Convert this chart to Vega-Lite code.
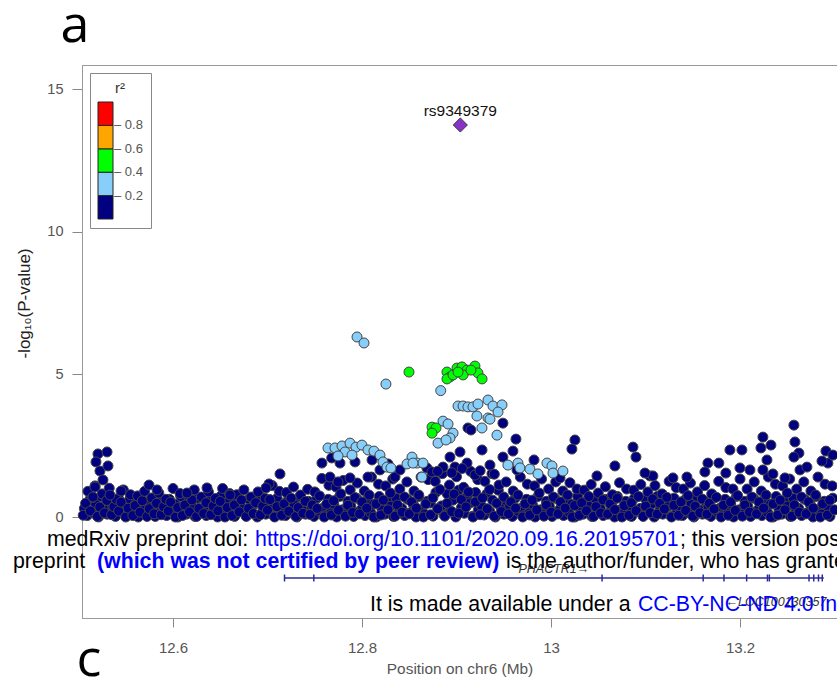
{
"$schema": "https://vega.github.io/schema/vega-lite/v6.json",
"autosize": {"type": "none"},
"padding": {"left": 82, "top": 65, "right": 0, "bottom": 68},
"width": 755,
"height": 553,
"background": "white",
"config": {"view": {"stroke": "#999", "strokeWidth": 1}, "font": "Liberation Sans", "axis": {"grid": false, "labelFont": "Liberation Sans", "titleFont": "Liberation Sans"}},
"datasets": {
"low": [
{"x":12.5062,"y":0.30,"r2":0.1},{"x":12.5092,"y":0.05,"r2":0.1},{"x":12.5122,"y":0.62,"r2":0.1},{"x":12.5152,"y":0.15,"r2":0.1},{"x":12.5182,"y":0.45,"r2":0.1},{"x":12.5212,"y":0.00,"r2":0.1},{"x":12.5242,"y":0.72,"r2":0.1},{"x":12.5272,"y":0.25,"r2":0.1},{"x":12.5302,"y":0.10,"r2":0.1},{"x":12.5332,"y":0.55,"r2":0.1},{"x":12.5362,"y":0.38,"r2":0.1},{"x":12.5392,"y":0.02,"r2":0.1},{"x":12.5422,"y":0.66,"r2":0.1},{"x":12.5452,"y":0.20,"r2":0.1},
{"x":12.5482,"y":0.30,"r2":0.1},{"x":12.5512,"y":0.05,"r2":0.1},{"x":12.5542,"y":0.62,"r2":0.1},{"x":12.5572,"y":0.15,"r2":0.1},{"x":12.5602,"y":0.45,"r2":0.1},{"x":12.5632,"y":0.00,"r2":0.1},{"x":12.5662,"y":0.72,"r2":0.1},{"x":12.5692,"y":0.25,"r2":0.1},{"x":12.5722,"y":0.10,"r2":0.1},{"x":12.5752,"y":0.55,"r2":0.1},{"x":12.5782,"y":0.38,"r2":0.1},{"x":12.5812,"y":0.02,"r2":0.1},{"x":12.5842,"y":0.66,"r2":0.1},{"x":12.5872,"y":0.20,"r2":0.1},
{"x":12.5902,"y":0.30,"r2":0.1},{"x":12.5932,"y":0.05,"r2":0.1},{"x":12.5962,"y":0.62,"r2":0.1},{"x":12.5992,"y":0.15,"r2":0.1},{"x":12.6022,"y":0.45,"r2":0.1},{"x":12.6052,"y":0.00,"r2":0.1},{"x":12.6082,"y":0.72,"r2":0.1},{"x":12.6112,"y":0.25,"r2":0.1},{"x":12.6142,"y":0.10,"r2":0.1},{"x":12.6172,"y":0.55,"r2":0.1},{"x":12.6202,"y":0.38,"r2":0.1},{"x":12.6232,"y":0.02,"r2":0.1},{"x":12.6262,"y":0.66,"r2":0.1},{"x":12.6292,"y":0.20,"r2":0.1},
{"x":12.6322,"y":0.30,"r2":0.1},{"x":12.6352,"y":0.05,"r2":0.1},{"x":12.6382,"y":0.62,"r2":0.1},{"x":12.6412,"y":0.15,"r2":0.1},{"x":12.6442,"y":0.45,"r2":0.1},{"x":12.6472,"y":0.00,"r2":0.1},{"x":12.6502,"y":0.72,"r2":0.1},{"x":12.6532,"y":0.25,"r2":0.1},{"x":12.6562,"y":0.10,"r2":0.1},{"x":12.6592,"y":0.55,"r2":0.1},{"x":12.6622,"y":0.38,"r2":0.1},{"x":12.6652,"y":0.02,"r2":0.1},{"x":12.6682,"y":0.66,"r2":0.1},{"x":12.6712,"y":0.20,"r2":0.1},
{"x":12.6742,"y":0.30,"r2":0.1},{"x":12.6772,"y":0.05,"r2":0.1},{"x":12.6802,"y":0.62,"r2":0.1},{"x":12.6832,"y":0.15,"r2":0.1},{"x":12.6862,"y":0.45,"r2":0.1},{"x":12.6892,"y":0.00,"r2":0.1},{"x":12.6922,"y":0.72,"r2":0.1},{"x":12.6952,"y":0.25,"r2":0.1},{"x":12.6982,"y":0.10,"r2":0.1},{"x":12.7012,"y":0.55,"r2":0.1},{"x":12.7042,"y":0.38,"r2":0.1},{"x":12.7072,"y":0.02,"r2":0.1},{"x":12.7102,"y":0.66,"r2":0.1},{"x":12.7132,"y":0.20,"r2":0.1},
{"x":12.7162,"y":0.30,"r2":0.1},{"x":12.7192,"y":0.05,"r2":0.1},{"x":12.7222,"y":0.62,"r2":0.1},{"x":12.7252,"y":0.15,"r2":0.1},{"x":12.7282,"y":0.45,"r2":0.1},{"x":12.7312,"y":0.00,"r2":0.1},{"x":12.7342,"y":0.72,"r2":0.1},{"x":12.7372,"y":0.25,"r2":0.1},{"x":12.7402,"y":0.10,"r2":0.1},{"x":12.7432,"y":0.55,"r2":0.1},{"x":12.7462,"y":0.38,"r2":0.1},{"x":12.7492,"y":0.02,"r2":0.1},{"x":12.7522,"y":0.66,"r2":0.1},{"x":12.7552,"y":0.20,"r2":0.1},
{"x":12.7582,"y":0.30,"r2":0.1},{"x":12.7612,"y":0.05,"r2":0.1},{"x":12.7642,"y":0.62,"r2":0.1},{"x":12.7672,"y":0.15,"r2":0.1},{"x":12.7702,"y":0.45,"r2":0.1},{"x":12.7732,"y":0.00,"r2":0.1},{"x":12.7762,"y":0.72,"r2":0.1},{"x":12.7792,"y":0.25,"r2":0.1},{"x":12.7822,"y":0.10,"r2":0.1},{"x":12.7852,"y":0.55,"r2":0.1},{"x":12.7882,"y":0.38,"r2":0.1},{"x":12.7912,"y":0.02,"r2":0.1},{"x":12.7942,"y":0.66,"r2":0.1},{"x":12.7972,"y":0.20,"r2":0.1},
{"x":12.8002,"y":0.30,"r2":0.1},{"x":12.8032,"y":0.05,"r2":0.1},{"x":12.8062,"y":0.62,"r2":0.1},{"x":12.8092,"y":0.15,"r2":0.1},{"x":12.8122,"y":0.45,"r2":0.1},{"x":12.8152,"y":0.00,"r2":0.1},{"x":12.8182,"y":0.72,"r2":0.1},{"x":12.8212,"y":0.25,"r2":0.1},{"x":12.8242,"y":0.10,"r2":0.1},{"x":12.8272,"y":0.55,"r2":0.1},{"x":12.8302,"y":0.38,"r2":0.1},{"x":12.8332,"y":0.02,"r2":0.1},{"x":12.8362,"y":0.66,"r2":0.1},{"x":12.8392,"y":0.20,"r2":0.1},
{"x":12.8422,"y":0.30,"r2":0.1},{"x":12.8452,"y":0.05,"r2":0.1},{"x":12.8482,"y":0.62,"r2":0.1},{"x":12.8512,"y":0.15,"r2":0.1},{"x":12.8542,"y":0.45,"r2":0.1},{"x":12.8572,"y":0.00,"r2":0.1},{"x":12.8602,"y":0.72,"r2":0.1},{"x":12.8632,"y":0.25,"r2":0.1},{"x":12.8662,"y":0.10,"r2":0.1},{"x":12.8692,"y":0.55,"r2":0.1},{"x":12.8722,"y":0.49,"r2":0.1},{"x":12.8752,"y":0.03,"r2":0.1},{"x":12.8782,"y":0.86,"r2":0.1},{"x":12.8812,"y":0.26,"r2":0.1},
{"x":12.8842,"y":0.39,"r2":0.1},{"x":12.8872,"y":0.07,"r2":0.1},{"x":12.8902,"y":0.81,"r2":0.1},{"x":12.8932,"y":0.20,"r2":0.1},{"x":12.8962,"y":0.59,"r2":0.1},{"x":12.8992,"y":0.00,"r2":0.1},{"x":12.9022,"y":0.94,"r2":0.1},{"x":12.9052,"y":0.33,"r2":0.1},{"x":12.9082,"y":0.13,"r2":0.1},{"x":12.9112,"y":0.72,"r2":0.1},{"x":12.9142,"y":0.49,"r2":0.1},{"x":12.9172,"y":0.03,"r2":0.1},{"x":12.9202,"y":0.86,"r2":0.1},{"x":12.9232,"y":0.26,"r2":0.1},
{"x":12.9262,"y":0.39,"r2":0.1},{"x":12.9292,"y":0.07,"r2":0.1},{"x":12.9322,"y":0.81,"r2":0.1},{"x":12.9352,"y":0.20,"r2":0.1},{"x":12.9382,"y":0.59,"r2":0.1},{"x":12.9412,"y":0.00,"r2":0.1},{"x":12.9442,"y":0.94,"r2":0.1},{"x":12.9472,"y":0.33,"r2":0.1},{"x":12.9502,"y":0.10,"r2":0.1},{"x":12.9532,"y":0.55,"r2":0.1},{"x":12.9562,"y":0.38,"r2":0.1},{"x":12.9592,"y":0.02,"r2":0.1},{"x":12.9622,"y":0.66,"r2":0.1},{"x":12.9652,"y":0.20,"r2":0.1},
{"x":12.9682,"y":0.30,"r2":0.1},{"x":12.9712,"y":0.05,"r2":0.1},{"x":12.9742,"y":0.62,"r2":0.1},{"x":12.9772,"y":0.15,"r2":0.1},{"x":12.9802,"y":0.45,"r2":0.1},{"x":12.9832,"y":0.00,"r2":0.1},{"x":12.9862,"y":0.72,"r2":0.1},{"x":12.9892,"y":0.25,"r2":0.1},{"x":12.9922,"y":0.10,"r2":0.1},{"x":12.9952,"y":0.55,"r2":0.1},{"x":12.9982,"y":0.38,"r2":0.1},{"x":13.0012,"y":0.02,"r2":0.1},{"x":13.0042,"y":0.66,"r2":0.1},{"x":13.0072,"y":0.20,"r2":0.1},
{"x":13.0102,"y":0.30,"r2":0.1},{"x":13.0132,"y":0.05,"r2":0.1},{"x":13.0162,"y":0.62,"r2":0.1},{"x":13.0192,"y":0.15,"r2":0.1},{"x":13.0222,"y":0.45,"r2":0.1},{"x":13.0252,"y":0.00,"r2":0.1},{"x":13.0282,"y":0.72,"r2":0.1},{"x":13.0312,"y":0.25,"r2":0.1},{"x":13.0342,"y":0.10,"r2":0.1},{"x":13.0372,"y":0.55,"r2":0.1},{"x":13.0402,"y":0.38,"r2":0.1},{"x":13.0432,"y":0.02,"r2":0.1},{"x":13.0462,"y":0.66,"r2":0.1},{"x":13.0492,"y":0.20,"r2":0.1},
{"x":13.0522,"y":0.30,"r2":0.1},{"x":13.0552,"y":0.05,"r2":0.1},{"x":13.0582,"y":0.62,"r2":0.1},{"x":13.0612,"y":0.15,"r2":0.1},{"x":13.0642,"y":0.45,"r2":0.1},{"x":13.0672,"y":0.00,"r2":0.1},{"x":13.0702,"y":0.72,"r2":0.1},{"x":13.0732,"y":0.25,"r2":0.1},{"x":13.0762,"y":0.10,"r2":0.1},{"x":13.0792,"y":0.55,"r2":0.1},{"x":13.0822,"y":0.38,"r2":0.1},{"x":13.0852,"y":0.02,"r2":0.1},{"x":13.0882,"y":0.66,"r2":0.1},{"x":13.0912,"y":0.20,"r2":0.1},
{"x":13.0942,"y":0.30,"r2":0.1},{"x":13.0972,"y":0.05,"r2":0.1},{"x":13.1002,"y":0.62,"r2":0.1},{"x":13.1032,"y":0.15,"r2":0.1},{"x":13.1062,"y":0.45,"r2":0.1},{"x":13.1092,"y":0.00,"r2":0.1},{"x":13.1122,"y":0.72,"r2":0.1},{"x":13.1152,"y":0.25,"r2":0.1},{"x":13.1182,"y":0.10,"r2":0.1},{"x":13.1212,"y":0.55,"r2":0.1},{"x":13.1242,"y":0.38,"r2":0.1},{"x":13.1272,"y":0.02,"r2":0.1},{"x":13.1302,"y":0.66,"r2":0.1},{"x":13.1332,"y":0.20,"r2":0.1},
{"x":13.1362,"y":0.30,"r2":0.1},{"x":13.1392,"y":0.05,"r2":0.1},{"x":13.1422,"y":0.62,"r2":0.1},{"x":13.1452,"y":0.15,"r2":0.1},{"x":13.1482,"y":0.45,"r2":0.1},{"x":13.1512,"y":0.00,"r2":0.1},{"x":13.1542,"y":0.72,"r2":0.1},{"x":13.1572,"y":0.25,"r2":0.1},{"x":13.1602,"y":0.10,"r2":0.1},{"x":13.1632,"y":0.55,"r2":0.1},{"x":13.1662,"y":0.38,"r2":0.1},{"x":13.1692,"y":0.02,"r2":0.1},{"x":13.1722,"y":0.66,"r2":0.1},{"x":13.1752,"y":0.20,"r2":0.1},
{"x":13.1782,"y":0.30,"r2":0.1},{"x":13.1812,"y":0.05,"r2":0.1},{"x":13.1842,"y":0.62,"r2":0.1},{"x":13.1872,"y":0.15,"r2":0.1},{"x":13.1902,"y":0.45,"r2":0.1},{"x":13.1932,"y":0.00,"r2":0.1},{"x":13.1962,"y":0.72,"r2":0.1},{"x":13.1992,"y":0.25,"r2":0.1},{"x":13.2022,"y":0.10,"r2":0.1},{"x":13.2052,"y":0.55,"r2":0.1},{"x":13.2082,"y":0.38,"r2":0.1},{"x":13.2112,"y":0.02,"r2":0.1},{"x":13.2142,"y":0.66,"r2":0.1},{"x":13.2172,"y":0.20,"r2":0.1},
{"x":13.2202,"y":0.30,"r2":0.1},{"x":13.2232,"y":0.05,"r2":0.1},{"x":13.2262,"y":0.62,"r2":0.1},{"x":13.2292,"y":0.15,"r2":0.1},{"x":13.2322,"y":0.45,"r2":0.1},{"x":13.2352,"y":0.00,"r2":0.1},{"x":13.2382,"y":0.72,"r2":0.1},{"x":13.2412,"y":0.25,"r2":0.1},{"x":13.2442,"y":0.10,"r2":0.1},{"x":13.2472,"y":0.55,"r2":0.1},{"x":13.2502,"y":0.38,"r2":0.1},{"x":13.2532,"y":0.02,"r2":0.1},{"x":13.2562,"y":0.66,"r2":0.1},{"x":13.2592,"y":0.20,"r2":0.1},
{"x":13.2622,"y":0.30,"r2":0.1},{"x":13.2652,"y":0.05,"r2":0.1},{"x":13.2682,"y":0.62,"r2":0.1},{"x":13.2712,"y":0.15,"r2":0.1},{"x":13.2742,"y":0.45,"r2":0.1},{"x":13.2772,"y":0.00,"r2":0.1},{"x":13.2802,"y":0.72,"r2":0.1},{"x":13.2832,"y":0.25,"r2":0.1},{"x":13.2862,"y":0.10,"r2":0.1},{"x":13.2892,"y":0.55,"r2":0.1},{"x":13.2922,"y":0.38,"r2":0.1},{"x":13.2952,"y":0.02,"r2":0.1},{"x":13.2982,"y":0.66,"r2":0.1}
],
"pts": [
{"x":12.505,"y":0.06,"r2":0.1},{"x":12.5075,"y":0.48,"r2":0.1},{"x":12.51,"y":0.90,"r2":0.1},{"x":12.5125,"y":0.21,"r2":0.1},{"x":12.515,"y":0.69,"r2":0.1},{"x":12.5175,"y":1.09,"r2":0.1},{"x":12.52,"y":0.02,"r2":0.1},{"x":12.5225,"y":0.35,"r2":0.1},{"x":12.525,"y":0.81,"r2":0.1},{"x":12.5275,"y":0.14,"r2":0.1},{"x":12.53,"y":0.58,"r2":0.1},{"x":12.5325,"y":1.01,"r2":0.1},
{"x":12.535,"y":0.08,"r2":0.1},{"x":12.5375,"y":0.36,"r2":0.1},{"x":12.54,"y":0.62,"r2":0.1},{"x":12.5425,"y":0.21,"r2":0.1},{"x":12.545,"y":0.52,"r2":0.1},{"x":12.5475,"y":0.95,"r2":0.1},{"x":12.55,"y":0.00,"r2":0.1},{"x":12.5525,"y":0.31,"r2":0.1},{"x":12.555,"y":0.78,"r2":0.1},{"x":12.5575,"y":0.05,"r2":0.1},{"x":12.56,"y":0.40,"r2":0.1},{"x":12.5625,"y":0.74,"r2":0.1},{"x":12.565,"y":0.17,"r2":0.1},{"x":12.5675,"y":0.57,"r2":0.1},{"x":12.57,"y":0.90,"r2":0.1},{"x":12.5725,"y":0.02,"r2":0.1},{"x":12.575,"y":0.29,"r2":0.1},{"x":12.5775,"y":0.67,"r2":0.1},{"x":12.58,"y":0.11,"r2":0.1},{"x":12.5825,"y":0.48,"r2":0.1},{"x":12.585,"y":0.84,"r2":0.1},{"x":12.5875,"y":0.08,"r2":0.1},{"x":12.59,"y":0.36,"r2":0.1},{"x":12.5925,"y":0.62,"r2":0.1},{"x":12.595,"y":0.21,"r2":0.1},{"x":12.5975,"y":0.52,"r2":0.1},
{"x":12.60,"y":1.00,"r2":0.1},{"x":12.6025,"y":0.00,"r2":0.1},{"x":12.605,"y":0.33,"r2":0.1},{"x":12.6075,"y":0.82,"r2":0.1},{"x":12.61,"y":0.05,"r2":0.1},{"x":12.6125,"y":0.42,"r2":0.1},{"x":12.615,"y":0.78,"r2":0.1},{"x":12.6175,"y":0.18,"r2":0.1},{"x":12.62,"y":0.60,"r2":0.1},{"x":12.6225,"y":0.95,"r2":0.1},{"x":12.625,"y":0.02,"r2":0.1},{"x":12.6275,"y":0.30,"r2":0.1},{"x":12.63,"y":0.70,"r2":0.1},{"x":12.6325,"y":0.12,"r2":0.1},{"x":12.635,"y":0.50,"r2":0.1},{"x":12.6375,"y":0.88,"r2":0.1},{"x":12.64,"y":0.08,"r2":0.1},{"x":12.6425,"y":0.38,"r2":0.1},{"x":12.645,"y":0.65,"r2":0.1},{"x":12.6475,"y":0.22,"r2":0.1},{"x":12.65,"y":0.55,"r2":0.1},{"x":12.6525,"y":1.00,"r2":0.1},{"x":12.655,"y":0.00,"r2":0.1},{"x":12.6575,"y":0.33,"r2":0.1},{"x":12.66,"y":0.82,"r2":0.1},{"x":12.6625,"y":0.05,"r2":0.1},{"x":12.665,"y":0.42,"r2":0.1},{"x":12.6675,"y":0.78,"r2":0.1},{"x":12.67,"y":0.18,"r2":0.1},{"x":12.6725,"y":0.60,"r2":0.1},{"x":12.675,"y":0.95,"r2":0.1},{"x":12.6775,"y":0.02,"r2":0.1},{"x":12.68,"y":0.30,"r2":0.1},{"x":12.6825,"y":0.70,"r2":0.1},{"x":12.685,"y":0.12,"r2":0.1},{"x":12.6875,"y":0.50,"r2":0.1},{"x":12.69,"y":0.88,"r2":0.1},{"x":12.6925,"y":0.08,"r2":0.1},{"x":12.695,"y":0.38,"r2":0.1},{"x":12.6975,"y":0.65,"r2":0.1},
{"x":12.70,"y":0.24,"r2":0.1},{"x":12.7025,"y":0.61,"r2":0.1},{"x":12.705,"y":1.10,"r2":0.1},{"x":12.7075,"y":0.00,"r2":0.1},{"x":12.71,"y":0.36,"r2":0.1},{"x":12.7125,"y":0.90,"r2":0.1},{"x":12.715,"y":0.06,"r2":0.1},{"x":12.7175,"y":0.46,"r2":0.1},{"x":12.72,"y":0.86,"r2":0.1},{"x":12.7225,"y":0.20,"r2":0.1},{"x":12.725,"y":0.66,"r2":0.1},{"x":12.7275,"y":1.05,"r2":0.1},{"x":12.73,"y":0.02,"r2":0.1},{"x":12.7325,"y":0.33,"r2":0.1},{"x":12.735,"y":0.77,"r2":0.1},{"x":12.7375,"y":0.13,"r2":0.1},{"x":12.74,"y":0.55,"r2":0.1},{"x":12.7425,"y":0.97,"r2":0.1},{"x":12.745,"y":0.09,"r2":0.1},{"x":12.7475,"y":0.42,"r2":0.1},
{"x":12.75,"y":0.88,"r2":0.1},{"x":12.7525,"y":0.30,"r2":0.1},{"x":12.755,"y":0.74,"r2":0.1},{"x":12.7575,"y":1.35,"r2":0.1},{"x":12.76,"y":0.00,"r2":0.1},{"x":12.7625,"y":0.45,"r2":0.1},{"x":12.765,"y":1.11,"r2":0.1},{"x":12.7675,"y":0.07,"r2":0.1},{"x":12.77,"y":0.57,"r2":0.1},{"x":12.7725,"y":1.05,"r2":0.1},{"x":12.775,"y":0.24,"r2":0.1},{"x":12.7775,"y":0.81,"r2":0.1},{"x":12.78,"y":1.28,"r2":0.1},{"x":12.7825,"y":0.03,"r2":0.1},{"x":12.785,"y":0.41,"r2":0.1},{"x":12.7875,"y":0.95,"r2":0.1},{"x":12.79,"y":0.16,"r2":0.1},{"x":12.7925,"y":0.68,"r2":0.1},{"x":12.795,"y":1.19,"r2":0.1},{"x":12.7975,"y":0.11,"r2":0.1},
{"x":12.80,"y":0.53,"r2":0.1},{"x":12.8025,"y":0.91,"r2":0.1},{"x":12.805,"y":0.31,"r2":0.1},{"x":12.8075,"y":0.77,"r2":0.1},{"x":12.81,"y":1.40,"r2":0.1},{"x":12.8125,"y":0.00,"r2":0.1},{"x":12.815,"y":0.46,"r2":0.1},{"x":12.8175,"y":1.15,"r2":0.1},{"x":12.82,"y":0.07,"r2":0.1},{"x":12.8225,"y":0.59,"r2":0.1},{"x":12.825,"y":1.09,"r2":0.1},{"x":12.8275,"y":0.25,"r2":0.1},{"x":12.83,"y":0.84,"r2":0.1},{"x":12.8325,"y":1.33,"r2":0.1},{"x":12.835,"y":0.03,"r2":0.1},{"x":12.8375,"y":0.42,"r2":0.1},{"x":12.84,"y":0.98,"r2":0.1},{"x":12.8425,"y":0.17,"r2":0.1},{"x":12.845,"y":0.70,"r2":0.1},{"x":12.8475,"y":1.23,"r2":0.1},{"x":12.85,"y":0.11,"r2":0.1},{"x":12.8525,"y":0.53,"r2":0.1},{"x":12.855,"y":0.91,"r2":0.1},{"x":12.8575,"y":0.31,"r2":0.1},{"x":12.86,"y":0.77,"r2":0.1},{"x":12.8625,"y":1.40,"r2":0.1},{"x":12.865,"y":0.00,"r2":0.1},{"x":12.8675,"y":0.46,"r2":0.1},
{"x":12.87,"y":1.31,"r2":0.1},{"x":12.8725,"y":0.08,"r2":0.1},{"x":12.875,"y":0.67,"r2":0.1},{"x":12.8775,"y":1.25,"r2":0.1},{"x":12.88,"y":0.29,"r2":0.1},{"x":12.8825,"y":0.96,"r2":0.1},{"x":12.885,"y":1.52,"r2":0.1},{"x":12.8875,"y":0.03,"r2":0.1},{"x":12.89,"y":0.48,"r2":0.1},{"x":12.8925,"y":1.12,"r2":0.1},{"x":12.895,"y":0.19,"r2":0.1},{"x":12.8975,"y":0.80,"r2":0.1},{"x":12.90,"y":1.41,"r2":0.1},{"x":12.9025,"y":0.13,"r2":0.1},{"x":12.905,"y":0.61,"r2":0.1},{"x":12.9075,"y":1.04,"r2":0.1},{"x":12.91,"y":0.35,"r2":0.1},{"x":12.9125,"y":0.88,"r2":0.1},{"x":12.915,"y":1.60,"r2":0.1},{"x":12.9175,"y":0.00,"r2":0.1},{"x":12.92,"y":0.53,"r2":0.1},{"x":12.9225,"y":1.31,"r2":0.1},{"x":12.925,"y":0.08,"r2":0.1},{"x":12.9275,"y":0.67,"r2":0.1},{"x":12.93,"y":1.25,"r2":0.1},{"x":12.9325,"y":0.29,"r2":0.1},{"x":12.935,"y":0.96,"r2":0.1},{"x":12.9375,"y":1.52,"r2":0.1},{"x":12.94,"y":0.03,"r2":0.1},{"x":12.9425,"y":0.48,"r2":0.1},{"x":12.945,"y":1.12,"r2":0.1},{"x":12.9475,"y":0.19,"r2":0.1},
{"x":12.95,"y":0.70,"r2":0.1},{"x":12.9525,"y":1.23,"r2":0.1},{"x":12.955,"y":0.11,"r2":0.1},{"x":12.9575,"y":0.53,"r2":0.1},{"x":12.96,"y":0.91,"r2":0.1},{"x":12.9625,"y":0.31,"r2":0.1},{"x":12.965,"y":0.77,"r2":0.1},{"x":12.9675,"y":1.40,"r2":0.1},{"x":12.97,"y":0.00,"r2":0.1},{"x":12.9725,"y":0.46,"r2":0.1},{"x":12.975,"y":1.15,"r2":0.1},{"x":12.9775,"y":0.07,"r2":0.1},{"x":12.98,"y":0.59,"r2":0.1},{"x":12.9825,"y":1.09,"r2":0.1},{"x":12.985,"y":0.25,"r2":0.1},{"x":12.9875,"y":0.84,"r2":0.1},{"x":12.99,"y":1.33,"r2":0.1},{"x":12.9925,"y":0.03,"r2":0.1},{"x":12.995,"y":0.42,"r2":0.1},{"x":12.9975,"y":0.98,"r2":0.1},{"x":13.00,"y":0.17,"r2":0.1},{"x":13.0025,"y":0.70,"r2":0.1},{"x":13.005,"y":1.23,"r2":0.1},{"x":13.0075,"y":0.11,"r2":0.1},{"x":13.01,"y":0.53,"r2":0.1},{"x":13.0125,"y":0.91,"r2":0.1},{"x":13.015,"y":0.31,"r2":0.1},{"x":13.0175,"y":0.77,"r2":0.1},
{"x":13.02,"y":1.20,"r2":0.1},{"x":13.0225,"y":0.00,"r2":0.1},{"x":13.025,"y":0.40,"r2":0.1},{"x":13.0275,"y":0.98,"r2":0.1},{"x":13.03,"y":0.06,"r2":0.1},{"x":13.0325,"y":0.50,"r2":0.1},{"x":13.035,"y":0.94,"r2":0.1},{"x":13.0375,"y":0.22,"r2":0.1},{"x":13.04,"y":0.72,"r2":0.1},{"x":13.0425,"y":1.14,"r2":0.1},{"x":13.045,"y":0.02,"r2":0.1},{"x":13.0475,"y":0.36,"r2":0.1},{"x":13.05,"y":0.84,"r2":0.1},{"x":13.0525,"y":0.14,"r2":0.1},{"x":13.055,"y":0.60,"r2":0.1},{"x":13.0575,"y":1.06,"r2":0.1},{"x":13.06,"y":0.10,"r2":0.1},{"x":13.0625,"y":0.46,"r2":0.1},{"x":13.065,"y":0.78,"r2":0.1},{"x":13.0675,"y":0.26,"r2":0.1},{"x":13.07,"y":0.66,"r2":0.1},{"x":13.0725,"y":1.20,"r2":0.1},{"x":13.075,"y":0.00,"r2":0.1},{"x":13.0775,"y":0.40,"r2":0.1},{"x":13.08,"y":0.98,"r2":0.1},{"x":13.0825,"y":0.06,"r2":0.1},{"x":13.085,"y":0.50,"r2":0.1},{"x":13.0875,"y":0.94,"r2":0.1},{"x":13.09,"y":0.22,"r2":0.1},{"x":13.0925,"y":0.72,"r2":0.1},{"x":13.095,"y":1.14,"r2":0.1},{"x":13.0975,"y":0.02,"r2":0.1},
{"x":13.10,"y":0.38,"r2":0.1},{"x":13.1025,"y":0.88,"r2":0.1},{"x":13.105,"y":0.15,"r2":0.1},{"x":13.1075,"y":0.63,"r2":0.1},{"x":13.11,"y":1.10,"r2":0.1},{"x":13.1125,"y":0.10,"r2":0.1},{"x":13.115,"y":0.48,"r2":0.1},{"x":13.1175,"y":0.81,"r2":0.1},{"x":13.12,"y":0.28,"r2":0.1},{"x":13.1225,"y":0.69,"r2":0.1},{"x":13.125,"y":1.25,"r2":0.1},{"x":13.1275,"y":0.00,"r2":0.1},{"x":13.13,"y":0.41,"r2":0.1},{"x":13.1325,"y":1.03,"r2":0.1},{"x":13.135,"y":0.06,"r2":0.1},{"x":13.1375,"y":0.53,"r2":0.1},{"x":13.14,"y":0.98,"r2":0.1},{"x":13.1425,"y":0.23,"r2":0.1},{"x":13.145,"y":0.75,"r2":0.1},{"x":13.1475,"y":1.19,"r2":0.1},{"x":13.15,"y":0.03,"r2":0.1},{"x":13.1525,"y":0.38,"r2":0.1},{"x":13.155,"y":0.88,"r2":0.1},{"x":13.1575,"y":0.15,"r2":0.1},{"x":13.16,"y":0.63,"r2":0.1},{"x":13.1625,"y":1.10,"r2":0.1},{"x":13.165,"y":0.10,"r2":0.1},{"x":13.1675,"y":0.48,"r2":0.1},{"x":13.17,"y":0.81,"r2":0.1},{"x":13.1725,"y":0.28,"r2":0.1},{"x":13.175,"y":0.69,"r2":0.1},{"x":13.1775,"y":1.25,"r2":0.1},{"x":13.18,"y":0.00,"r2":0.1},{"x":13.1825,"y":0.41,"r2":0.1},{"x":13.185,"y":1.03,"r2":0.1},{"x":13.1875,"y":0.06,"r2":0.1},{"x":13.19,"y":0.53,"r2":0.1},{"x":13.1925,"y":0.98,"r2":0.1},{"x":13.195,"y":0.23,"r2":0.1},{"x":13.1975,"y":0.75,"r2":0.1},
{"x":13.20,"y":1.33,"r2":0.1},{"x":13.2025,"y":0.03,"r2":0.1},{"x":13.205,"y":0.42,"r2":0.1},{"x":13.2075,"y":0.98,"r2":0.1},{"x":13.21,"y":0.17,"r2":0.1},{"x":13.2125,"y":0.70,"r2":0.1},{"x":13.215,"y":1.23,"r2":0.1},{"x":13.2175,"y":0.11,"r2":0.1},{"x":13.22,"y":0.53,"r2":0.1},{"x":13.2225,"y":0.91,"r2":0.1},{"x":13.225,"y":0.31,"r2":0.1},{"x":13.2275,"y":0.77,"r2":0.1},{"x":13.23,"y":1.40,"r2":0.1},{"x":13.2325,"y":0.00,"r2":0.1},{"x":13.235,"y":0.46,"r2":0.1},{"x":13.2375,"y":1.15,"r2":0.1},{"x":13.24,"y":0.07,"r2":0.1},{"x":13.2425,"y":0.59,"r2":0.1},{"x":13.245,"y":1.09,"r2":0.1},{"x":13.2475,"y":0.25,"r2":0.1},{"x":13.25,"y":0.84,"r2":0.1},{"x":13.2525,"y":1.33,"r2":0.1},{"x":13.255,"y":0.03,"r2":0.1},{"x":13.2575,"y":0.42,"r2":0.1},{"x":13.26,"y":0.98,"r2":0.1},{"x":13.2625,"y":0.17,"r2":0.1},{"x":13.265,"y":0.70,"r2":0.1},{"x":13.2675,"y":1.23,"r2":0.1},{"x":13.27,"y":0.11,"r2":0.1},{"x":13.2725,"y":0.53,"r2":0.1},{"x":13.275,"y":0.91,"r2":0.1},{"x":13.2775,"y":0.31,"r2":0.1},{"x":13.28,"y":0.77,"r2":0.1},{"x":13.2825,"y":1.40,"r2":0.1},{"x":13.285,"y":0.00,"r2":0.1},{"x":13.2875,"y":0.46,"r2":0.1},{"x":13.29,"y":1.15,"r2":0.1},{"x":13.2925,"y":0.07,"r2":0.1},{"x":13.295,"y":0.59,"r2":0.1},{"x":13.2975,"y":1.09,"r2":0.1},{"x":13.30,"y":0.25,"r2":0.1},
{"x":12.5206,"y":2.21,"r2":0.1},{"x":12.5302,"y":2.28,"r2":0.1},{"x":12.5185,"y":1.93,"r2":0.1},{"x":12.5227,"y":1.61,"r2":0.1},{"x":12.5259,"y":1.30,"r2":0.1},{"x":12.5175,"y":1.05,"r2":0.1},{"x":12.5312,"y":1.79,"r2":0.1},{"x":12.5153,"y":0.70,"r2":0.1},{"x":12.5333,"y":0.77,"r2":0.1},{"x":12.5746,"y":1.12,"r2":0.1},{"x":12.5450,"y":0.91,"r2":0.1},{"x":12.5831,"y":0.95,"r2":0.1},{"x":12.6360,"y":1.02,"r2":0.1},{"x":12.6603,"y":0.77,"r2":0.1},{"x":12.7016,"y":1.16,"r2":0.1},{"x":12.6984,"y":1.02,"r2":0.1},{"x":12.7132,"y":1.51,"r2":0.1},{"x":12.6148,"y":0.84,"r2":0.1},
{"x":12.7576,"y":1.89,"r2":0.1},{"x":12.7679,"y":2.07,"r2":0.1},{"x":12.7767,"y":1.89,"r2":0.1},{"x":12.7926,"y":1.93,"r2":0.1},{"x":12.7661,"y":1.40,"r2":0.1},{"x":12.7746,"y":1.23,"r2":0.1},{"x":12.7873,"y":1.37,"r2":0.1},{"x":12.8063,"y":1.40,"r2":0.1},{"x":12.8349,"y":1.40,"r2":0.1},{"x":12.8190,"y":1.65,"r2":0.1},{"x":12.8402,"y":1.65,"r2":0.1},{"x":12.8275,"y":1.86,"r2":0.1},{"x":12.8106,"y":2.00,"r2":0.1},{"x":12.8931,"y":2.10,"r2":0.1},{"x":12.8984,"y":1.75,"r2":0.1},{"x":12.8857,"y":1.75,"r2":0.1},{"x":12.9111,"y":1.89,"r2":0.1},{"x":12.9121,"y":3.12,"r2":0.1},{"x":12.9153,"y":3.05,"r2":0.1},{"x":12.9270,"y":2.35,"r2":0.1},{"x":12.9037,"y":2.28,"r2":0.1},{"x":12.9491,"y":3.29,"r2":0.1},{"x":12.9629,"y":2.73,"r2":0.1},{"x":12.9597,"y":2.31,"r2":0.1},{"x":12.9491,"y":2.10,"r2":0.1},{"x":12.9820,"y":2.00,"r2":0.1},{"x":12.9640,"y":1.65,"r2":0.1},{"x":12.9354,"y":1.82,"r2":0.1},{"x":12.9195,"y":1.47,"r2":0.1},{"x":12.8687,"y":1.72,"r2":0.1},{"x":12.8740,"y":1.58,"r2":0.1},{"x":12.8800,"y":1.60,"r2":0.1},{"x":12.8950,"y":1.55,"r2":0.1},{"x":12.9060,"y":1.70,"r2":0.1},{"x":12.9250,"y":1.62,"r2":0.1},{"x":12.9400,"y":1.50,"r2":0.1},
{"x":13.0253,"y":2.70,"r2":0.1},{"x":13.0221,"y":2.38,"r2":0.1},{"x":13.0867,"y":2.45,"r2":0.1},{"x":13.0899,"y":2.10,"r2":0.1},{"x":13.0676,"y":1.79,"r2":0.1},{"x":13.0486,"y":1.44,"r2":0.1},{"x":13.0095,"y":1.37,"r2":0.1},{"x":13.1047,"y":1.44,"r2":0.1},
{"x":13.2570,"y":3.22,"r2":0.1},{"x":13.2581,"y":2.63,"r2":0.1},{"x":13.2623,"y":2.24,"r2":0.1},{"x":13.2570,"y":2.10,"r2":0.1},{"x":13.2242,"y":2.80,"r2":0.1},{"x":13.2327,"y":2.52,"r2":0.1},{"x":13.2221,"y":2.42,"r2":0.1},{"x":13.1893,"y":2.35,"r2":0.1},{"x":13.2020,"y":2.35,"r2":0.1},{"x":13.2909,"y":2.31,"r2":0.1},{"x":13.2930,"y":1.89,"r2":0.1},{"x":13.2285,"y":2.00,"r2":0.1},{"x":13.2242,"y":1.65,"r2":0.1},{"x":13.1660,"y":1.89,"r2":0.1},{"x":13.1776,"y":1.89,"r2":0.1},{"x":13.1628,"y":1.58,"r2":0.1},{"x":13.1850,"y":1.54,"r2":0.1},{"x":13.1999,"y":1.72,"r2":0.1},{"x":13.2105,"y":1.65,"r2":0.1},{"x":13.2348,"y":1.51,"r2":0.1},{"x":13.1078,"y":1.44,"r2":0.1},{"x":13.0994,"y":1.54,"r2":0.1},{"x":13.1438,"y":1.40,"r2":0.1},{"x":13.1290,"y":1.37,"r2":0.1},{"x":13.2867,"y":1.96,"r2":0.1},{"x":13.2634,"y":1.65,"r2":0.1},{"x":13.2708,"y":1.75,"r2":0.1},{"x":13.2475,"y":1.37,"r2":0.1},{"x":13.2983,"y":2.17,"r2":0.1},
{"x":12.7947,"y":6.31,"r2":0.3},{"x":12.8021,"y":6.10,"r2":0.3},{"x":12.8253,"y":4.66,"r2":0.3},{"x":12.8833,"y":4.43,"r2":0.3},{"x":12.9016,"y":3.89,"r2":0.3},{"x":12.9069,"y":3.89,"r2":0.3},{"x":12.9121,"y":3.86,"r2":0.3},{"x":12.9174,"y":3.86,"r2":0.3},{"x":12.9227,"y":3.96,"r2":0.3},{"x":12.9333,"y":4.10,"r2":0.3},{"x":12.9386,"y":3.89,"r2":0.3},{"x":12.9481,"y":3.93,"r2":0.3},{"x":12.9439,"y":3.68,"r2":0.3},{"x":12.9216,"y":3.54,"r2":0.3},{"x":12.9333,"y":3.47,"r2":0.3},{"x":12.9354,"y":3.43,"r2":0.3},{"x":12.9269,"y":3.12,"r2":0.3},{"x":12.9428,"y":2.87,"r2":0.3},{"x":12.8857,"y":3.36,"r2":0.3},{"x":12.8910,"y":3.26,"r2":0.3},{"x":12.8963,"y":2.94,"r2":0.3},{"x":12.8931,"y":2.77,"r2":0.3},{"x":12.8804,"y":2.59,"r2":0.3},{"x":12.8889,"y":2.70,"r2":0.3},
{"x":12.7640,"y":2.42,"r2":0.3},{"x":12.7714,"y":2.42,"r2":0.3},{"x":12.7788,"y":2.49,"r2":0.3},{"x":12.7873,"y":2.59,"r2":0.3},{"x":12.7936,"y":2.45,"r2":0.3},{"x":12.7999,"y":2.52,"r2":0.3},{"x":12.8063,"y":2.35,"r2":0.3},{"x":12.8126,"y":2.31,"r2":0.3},{"x":12.8190,"y":2.17,"r2":0.3},{"x":12.8222,"y":1.93,"r2":0.3},{"x":12.8264,"y":1.75,"r2":0.3},{"x":12.8306,"y":1.72,"r2":0.3},{"x":12.7820,"y":2.28,"r2":0.3},{"x":12.7894,"y":2.17,"r2":0.3},{"x":12.7746,"y":2.14,"r2":0.3},{"x":12.8529,"y":2.10,"r2":0.3},{"x":12.8582,"y":1.89,"r2":0.3},{"x":12.8645,"y":1.89,"r2":0.3},{"x":12.8476,"y":1.86,"r2":0.3},{"x":12.8635,"y":1.40,"r2":0.3},{"x":12.8539,"y":1.89,"r2":0.3},
{"x":12.9544,"y":1.82,"r2":0.3},{"x":12.9650,"y":1.89,"r2":0.3},{"x":12.9671,"y":1.72,"r2":0.3},{"x":12.9777,"y":1.68,"r2":0.3},{"x":12.9862,"y":1.51,"r2":0.3},{"x":12.9957,"y":1.89,"r2":0.3},{"x":13.0010,"y":1.79,"r2":0.3},{"x":13.0021,"y":1.54,"r2":0.3},{"x":13.0126,"y":1.61,"r2":0.3},
{"x":12.8497,"y":5.08,"r2":0.5},{"x":12.8899,"y":5.08,"r2":0.5},{"x":12.8931,"y":4.91,"r2":0.5},{"x":12.8899,"y":4.84,"r2":0.5},{"x":12.8963,"y":4.98,"r2":0.5},{"x":12.9005,"y":5.22,"r2":0.5},{"x":12.9058,"y":5.26,"r2":0.5},{"x":12.9111,"y":5.15,"r2":0.5},{"x":12.9195,"y":5.29,"r2":0.5},{"x":12.9227,"y":5.05,"r2":0.5},{"x":12.9270,"y":4.84,"r2":0.5},{"x":12.9069,"y":4.98,"r2":0.5},{"x":12.9153,"y":5.15,"r2":0.5},{"x":12.9016,"y":5.08,"r2":0.5},{"x":12.8741,"y":3.15,"r2":0.5},{"x":12.8783,"y":3.12,"r2":0.5},{"x":12.8741,"y":2.94,"r2":0.5}
],
"lead": [{"x":12.904,"y":13.74,"name":"rs9349379"}],
"gene": [{"x":12.718,"x2":13.2886,"y":-2.138}],
"exons": [{"x":12.718,"y":-2.138},{"x":12.749,"y":-2.138},{"x":13.054,"y":-2.138},{"x":13.161,"y":-2.138},{"x":13.183,"y":-2.138},{"x":13.207,"y":-2.138},{"x":13.229,"y":-2.138},{"x":13.231,"y":-2.138},{"x":13.273,"y":-2.138},{"x":13.278,"y":-2.138},{"x":13.283,"y":-2.138},{"x":13.287,"y":-2.138}],
"genelabels": [{"x":13.003,"y":-1.82,"t":"PHACTR1→"},{"x":13.238,"y":-2.98,"t":"←LOC100130357"}],
"wmBlack": [
{"x":12.4667,"y":-1.016,"t":"medRxiv preprint doi:"},
{"x":13.1365,"y":-1.016,"t":"; this version posted September 18, 2020. The copyright holder for this"},
{"x":12.4307,"y":-1.788,"t":"preprint"},
{"x":12.9524,"y":-1.788,"t":"is the author/funder, who has granted medRxiv a license to display the preprint in perpetuity."},
{"x":12.8085,"y":-3.295,"t":"It is made available under a"}
],
"wmBlue": [
{"x":12.6868,"y":-1.016,"t":"https://doi.org/10.1101/2020.09.16.20195701"},
{"x":13.0920,"y":-3.295,"t":"CC-BY-NC-ND 4.0 International license"}
],
"wmBold": [
{"x":12.5196,"y":-1.788,"t":"(which was not certified by peer review)"}
],
"panels": [{"x":12.481,"y":16.649,"t":"a"},{"x":12.4979,"y":-5.573,"t":"c"}]
},
"encoding": {
"x": {"field": "x", "type": "quantitative", "scale": {"domain": [12.5037, 13.3026], "nice": false, "zero": false},
  "axis": {"orient": "bottom", "values": [12.6, 12.8, 13, 13.2], "labelExpr": "datum.value + ''", "tickSize": 9, "tickColor": "#888", "domainColor": "#999", "labelFontSize": 15, "labelColor": "#555", "labelPadding": 13, "title": "Position on chr6 (Mb)", "titleFontSize": 15.4, "titleFontWeight": "normal", "titleColor": "#555", "titlePadding": 6}},
"y": {"field": "y", "type": "quantitative", "scale": {"domain": [-3.54, 15.843], "nice": false, "zero": false},
  "axis": {"values": [0, 5, 10, 15], "tickSize": 10, "tickColor": "#888", "domainColor": "#999", "labelFontSize": 14.5, "labelColor": "#555", "labelPadding": 9, "title": "-log₁₀(P-value)", "titleFontSize": 17, "titleFontWeight": "normal", "titleColor": "#222", "titleX": -58, "titleY": 238, "titleAngle": -90, "titleBaseline": "middle", "titleAlign": "center"}}
},
"layer": [
{"data": {"name": "low"},
 "mark": {"type": "circle", "size": 100, "opacity": 1, "fill": "#000080", "stroke": "#444444", "strokeWidth": 1}},
{"data": {"name": "pts"},
 "mark": {"type": "circle", "size": 100, "opacity": 1, "stroke": "#444444", "strokeWidth": 1},
 "encoding": {
  "fill": {"field": "r2", "type": "quantitative",
   "scale": {"type": "threshold", "domain": [0.2, 0.4, 0.6, 0.8], "range": ["#000080", "#87CEFA", "#00FF00", "#FFA500", "#FF0000"]},
   "legend": {"type": "gradient", "title": "r²", "orient": "top-left", "offset": 8, "direction": "vertical", "gradientLength": 117, "gradientThickness": 15, "gradientStrokeColor": "#222", "gradientStrokeWidth": 1, "labelFontSize": 13, "labelColor": "#555", "labelOffset": 1, "labelExpr": "(!isValid(datum.value) || datum.value < 0.19 || !isValid(datum.label) || datum.label == 'null') ? '' : '– ' + datum.label", "titleFontSize": 15, "titleFontWeight": "normal", "titleColor": "#333", "titleAnchor": "middle", "titlePadding": 6, "padding": 8, "strokeColor": "#888", "fillColor": "white"}}
 }},
{"data": {"name": "lead"},
 "mark": {"type": "point", "shape": "diamond", "filled": true, "size": 200, "fill": "#8a32c8", "stroke": "#3a3a3a", "strokeWidth": 1, "opacity": 1}},
{"data": {"name": "lead"},
 "mark": {"type": "text", "dy": -14, "fontSize": 15.5, "font": "Liberation Sans", "color": "#111", "baseline": "middle", "align": "center"},
 "encoding": {"text": {"field": "name"}}},
{"data": {"name": "gene"},
 "mark": {"type": "rule", "color": "#2a2a9a", "strokeWidth": 1.3},
 "encoding": {"x2": {"field": "x2"}}},
{"data": {"name": "exons"},
 "mark": {"type": "tick", "orient": "vertical", "size": 7, "thickness": 1.5, "color": "#2a2a9a", "opacity": 1}},
{"data": {"name": "genelabels"},
 "mark": {"type": "text", "font": "Liberation Sans", "fontStyle": "italic", "fontSize": 12.5, "color": "#333", "baseline": "middle", "align": "center"},
 "encoding": {"text": {"field": "t"}}},
{"data": {"name": "wmBlack"},
 "mark": {"type": "text", "align": "left", "baseline": "alphabetic", "font": "Liberation Sans", "fontSize": 21.3, "color": "#000000"},
 "encoding": {"text": {"field": "t"}}},
{"data": {"name": "wmBlue"},
 "mark": {"type": "text", "align": "left", "baseline": "alphabetic", "font": "Liberation Sans", "fontSize": 21.3, "color": "#0000FF"},
 "encoding": {"text": {"field": "t"}}},
{"data": {"name": "wmBold"},
 "mark": {"type": "text", "align": "left", "baseline": "alphabetic", "font": "Liberation Sans", "fontSize": 21.3, "fontWeight": "bold", "color": "#0000FF"},
 "encoding": {"text": {"field": "t"}}},
{"data": {"name": "panels"},
 "mark": {"type": "text", "align": "left", "baseline": "alphabetic", "font": "Open Sans", "fontSize": 52, "color": "#000000"},
 "encoding": {"text": {"field": "t"}}}
]
}
